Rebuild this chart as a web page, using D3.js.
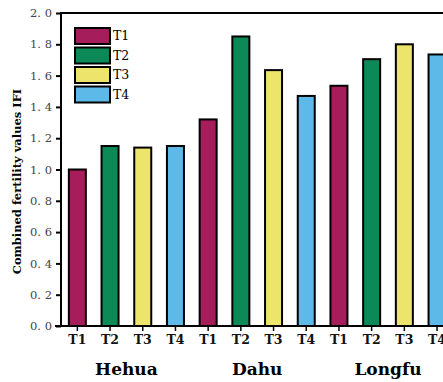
<!DOCTYPE html>
<html>
<head>
<meta charset="utf-8">
<script src="https://d3js.org/d3.v7.min.js"></script>
<style>
  body { margin: 0; background: #fff; }
  text { font-family: "DejaVu Serif", "Liberation Serif", serif; }
</style>
</head>
<body>
<script>
// data
var sites = ["Hehua", "Dahu", "Longfu"];
var treatments = ["T1", "T2", "T3", "T4"];
var hehua = [1.00, 1.15, 1.14, 1.15];
var dahu = [1.32, 1.85, 1.635, 1.47];
var longfu = [1.535, 1.705, 1.80, 1.735];
var yTicks = [0, 0.2, 0.4, 0.6, 0.8, 1.0, 1.2, 1.4, 1.6, 1.8, 2.0];
var colors = ["#a51d5a", "#0b8a58", "#ede56b", "#5db9e8"];

var width = 443, height = 382;
var plotLeft = 61, plotTop = 13, plotBottom = 326;
var step = 32.7;

var bars = [];
[hehua, dahu, longfu].forEach(function(vals, i) {
  vals.forEach(function(v, j) {
    bars.push({site: sites[i], t: treatments[j], key: sites[i] + "-" + treatments[j], value: v, ci: j});
  });
});

var svg = d3.select("body").append("svg")
  .attr("width", width).attr("height", height);

var x = d3.scaleBand()
  .domain(bars.map(function(d) { return d.key; }))
  .range([plotLeft, plotLeft + step * bars.length])
  .paddingInner(0.48).paddingOuter(0.24);

var y = d3.scaleLinear().domain([0, 2]).range([plotBottom, plotTop]);

// top frame line
svg.append("line")
  .attr("x1", plotLeft).attr("x2", width + 5)
  .attr("y1", plotTop).attr("y2", plotTop)
  .attr("stroke", "#000").attr("stroke-width", 2);

// bars
svg.selectAll("rect.bar")
  .data(bars).enter().append("rect")
  .attr("class", "bar")
  .attr("x", function(d) { return x(d.key); })
  .attr("width", x.bandwidth())
  .attr("y", function(d) { return y(d.value); })
  .attr("height", function(d) { return y(0) - y(d.value); })
  .attr("fill", function(d) { return colors[d.ci]; })
  .attr("stroke", "#000").attr("stroke-width", 2);

// y axis
var yAxis = svg.append("g")
  .attr("transform", "translate(" + plotLeft + ",0)")
  .call(d3.axisLeft(y).tickValues(yTicks).tickSize(5).tickPadding(4)
    .tickFormat(function(d) { return d3.format(".1f")(d).replace(".", ". "); }));
yAxis.select(".domain").attr("stroke-width", 2).attr("d", "M0," + (plotBottom + 1) + "V" + (plotTop - 1));
yAxis.selectAll(".tick line").attr("stroke-width", 2);
yAxis.selectAll(".tick text")
  .attr("font-family", "Liberation Serif, serif")
  .attr("font-size", 11.5).attr("fill", "#444");

// x axis
var xAxis = svg.append("g")
  .attr("transform", "translate(0," + plotBottom + ")")
  .call(d3.axisBottom(x).tickSize(5).tickPadding(4)
    .tickFormat(function(k) { return k.split("-")[1]; }));
xAxis.select(".domain").attr("stroke-width", 2).attr("d", "M" + (plotLeft - 6) + ",0H" + (width + 5));
xAxis.selectAll(".tick line").attr("stroke-width", 1.5);
xAxis.selectAll(".tick text")
  .attr("font-family", "DejaVu Serif, serif")
  .attr("font-size", 12.5).attr("font-weight", 600).attr("fill", "#111");

// site labels
svg.selectAll("text.site")
  .data(sites).enter().append("text")
  .attr("class", "site")
  .attr("x", function(s) {
    return (x(s + "-T1") + x(s + "-T4") + x.bandwidth()) / 2;
  })
  .attr("y", 375)
  .attr("text-anchor", "middle")
  .attr("font-size", 17).attr("font-weight", "bold")
  .text(function(s) { return s; });

// y title
svg.append("text")
  .attr("transform", "translate(21," + ((plotTop + plotBottom) / 2 + 12) + ") rotate(-90)")
  .attr("text-anchor", "middle")
  .attr("font-family", "DejaVu Serif, serif")
  .attr("font-size", 11.5).attr("font-weight", "bold")
  .text("Combined fertility values IFI");

// legend
var legend = svg.append("g").attr("transform", "translate(75,28)");
treatments.forEach(function(t, i) {
  legend.append("rect")
    .attr("x", 0).attr("y", i * 19.5)
    .attr("width", 35).attr("height", 16)
    .attr("fill", colors[i]).attr("stroke", "#000").attr("stroke-width", 2);
  legend.append("text")
    .attr("x", 38).attr("y", i * 19.5 + 12)
    .attr("font-family", "Liberation Serif, serif")
    .attr("font-size", 12.5)
    .text(t);
});
</script>
</body>
</html>
